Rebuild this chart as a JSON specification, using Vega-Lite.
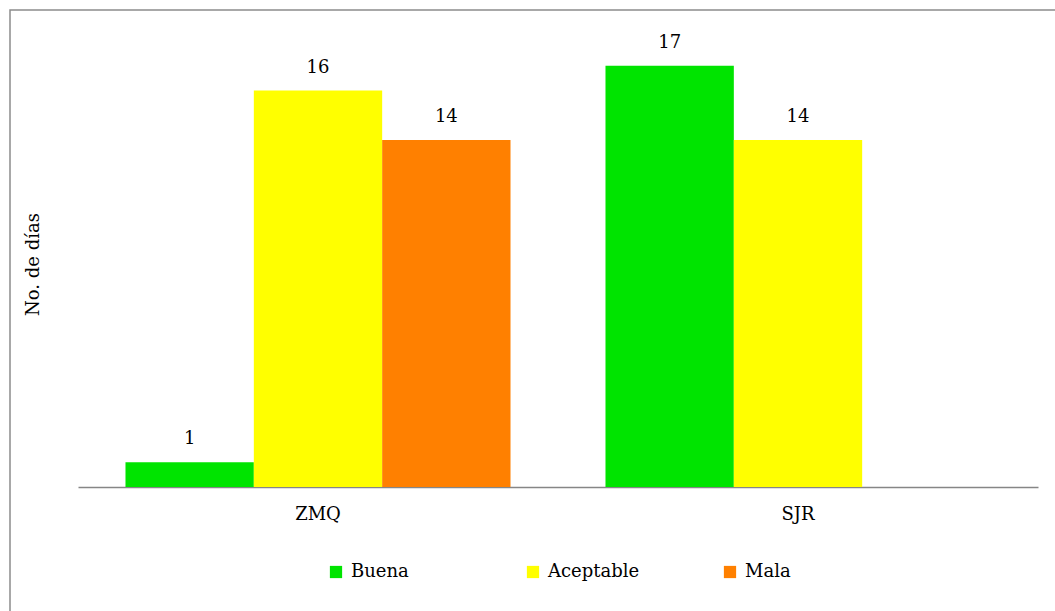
{
  "$schema": "https://vega.github.io/schema/vega-lite/v6.json",
  "autosize": "none",
  "padding": {"left": 10, "top": 10, "right": 0, "bottom": 0},
  "width": 1060,
  "height": 620,
  "data": {
    "values": [
      {"zona": "ZMQ", "calidad": "Buena", "dias": 1},
      {"zona": "ZMQ", "calidad": "Aceptable", "dias": 16},
      {"zona": "ZMQ", "calidad": "Mala", "dias": 14},
      {"zona": "SJR", "calidad": "Buena", "dias": 17},
      {"zona": "SJR", "calidad": "Aceptable", "dias": 14}
    ]
  },
  "encoding": {
    "x": {
      "field": "zona",
      "type": "nominal",
      "sort": ["ZMQ", "SJR"],
      "scale": {"range": [68, 1028], "paddingInner": 0, "paddingOuter": 0},
      "axis": {
        "title": null,
        "orient": "bottom",
        "offset": -143,
        "labelAngle": 0,
        "ticks": false,
        "domainColor": "#868686",
        "domainWidth": 1.5,
        "labelPadding": 18,
        "labelFont": "DejaVu Serif",
        "labelFontSize": 18,
        "labelColor": "#000000"
      }
    },
    "xOffset": {
      "field": "calidad",
      "type": "nominal",
      "sort": ["Buena", "Aceptable", "Mala"],
      "scale": {"domain": ["Buena", "Aceptable", "Mala"], "paddingInner": 0, "paddingOuter": 0.37}
    },
    "y": {
      "field": "dias",
      "type": "quantitative",
      "scale": {"domain": [0, 18], "range": [477, 31], "nice": false},
      "axis": {
        "title": "No. de días",
        "offset": -68,
        "domain": false,
        "ticks": false,
        "labels": false,
        "grid": false,
        "titlePadding": 36,
        "titleFont": "DejaVu Serif",
        "titleFontSize": 18,
        "titleFontWeight": "normal",
        "titleColor": "#000000"
      }
    }
  },
  "layer": [
    {
      "mark": {"type": "bar"},
      "encoding": {
        "color": {
          "field": "calidad",
          "type": "nominal",
          "sort": ["Buena", "Aceptable", "Mala"],
          "scale": {"domain": ["Buena", "Aceptable", "Mala"], "range": ["#00e400", "#ffff00", "#ff8000"]},
          "legend": {
            "title": null,
            "orient": "none",
            "legendX": 317,
            "legendY": 553,
            "direction": "horizontal",
            "symbolType": "square",
            "symbolSize": 150,
            "symbolStrokeWidth": 0,
            "gridAlign": "all",
            "columnPadding": 81,
            "labelFont": "DejaVu Serif",
            "labelFontSize": 18,
            "labelColor": "#000000",
            "labelOffset": 6
          }
        }
      }
    },
    {
      "mark": {"type": "text", "baseline": "bottom", "dy": -14, "font": "DejaVu Serif", "fontSize": 18, "color": "#000000"},
      "encoding": {
        "text": {"field": "dias", "type": "quantitative"}
      }
    }
  ],
  "config": {
    "view": {"stroke": "#8c8c8c", "strokeWidth": 1.5}
  }
}
